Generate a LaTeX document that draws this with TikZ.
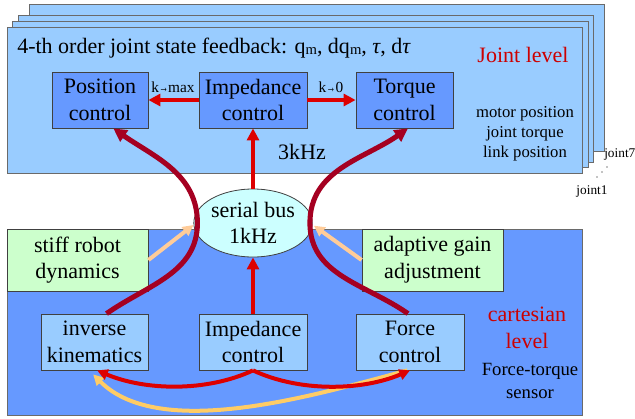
\documentclass[tikz,border=0pt]{standalone}
\usepackage{fontspec}
\setmainfont{Liberation Serif}
\usetikzlibrary{arrows.meta,shapes.geometric}
\definecolor{lightblue}{HTML}{99CCFF}
\definecolor{midblue}{HTML}{6699FF}
\definecolor{lightgreen}{HTML}{CCFFCC}
\definecolor{buscol}{HTML}{CCFFFF}
\definecolor{arrred}{HTML}{DD0000}
\definecolor{darkred}{HTML}{A50021}
\definecolor{peach}{HTML}{FFCC99}
\definecolor{yellowc}{HTML}{FFCC66}
\definecolor{txtred}{HTML}{CC0000}
\definecolor{boxborder}{HTML}{404040}
\definecolor{panelborder}{HTML}{6A6A6A}
\begin{document}
\begin{tikzpicture}[x=0.75pt,y=0.75pt,
  panel/.style={fill=lightblue,draw=panelborder,line width=0.7pt},
  box/.style={draw=boxborder,line width=0.6pt,align=center,inner sep=0pt,minimum height=42pt,font=\fontsize{16.5}{20}\selectfont},
  jbox/.style={box,fill=midblue},
  cbox/.style={box,fill=lightblue},
  gbox/.style={box,fill=lightgreen,minimum height=46.5pt,minimum width=105.75pt},
  bigtxt/.style={font=\fontsize{16.5}{20}\selectfont,align=center,inner sep=0pt},
  redarr/.style={draw=arrred,line width=3.2pt,-{Triangle[length=9pt,width=9pt]}},
  curvearr/.style={draw=darkred,line width=3.8pt,-{Triangle[length=10pt,width=10pt]}},
  peacharr/.style={draw=peach,line width=3pt,-{Triangle[length=8pt,width=8pt]}},
  yellowarr/.style={draw=yellowc,line width=3pt,-{Triangle[length=8pt,width=8pt]}},
  botarr/.style={draw=arrred,line width=3pt,-{Triangle[length=8pt,width=8pt]}}
]
\useasboundingbox (0,0) rectangle (635,-418);
% joint level stacked panels
\draw[panel] (29,-4) rectangle (604,-151);
\draw[panel] (18,-15) rectangle (593,-162);
\draw[panel] (12,-21) rectangle (588,-167);
\draw[panel] (7,-27) rectangle (582,-173);
% cartesian panel
\draw[fill=midblue,draw=panelborder,line width=0.7pt] (7,-229) rectangle (582,-415);

% joint level texts
\node[bigtxt,anchor=west] (title) at (17,-48) {4-th order joint state feedback: q\raisebox{-1pt}{\fontsize{11}{11}\selectfont m}, dq\raisebox{-1pt}{\fontsize{11}{11}\selectfont m}, {\itshape τ}, d{\itshape τ}};
\node[bigtxt,text=txtred] (jl) at (523,-55) {Joint level};
\node[font=\fontsize{12.5}{15}\selectfont,align=center,inner sep=0pt] (sens) at (525,-134) {motor position\\joint torque\\link position};
\node[bigtxt] (khz3) at (302,-152) {3kHz};
\node[font=\fontsize{10}{12}\selectfont,anchor=west,inner sep=0pt] (j7) at (604,-155) {joint7};
\node[font=\fontsize{10}{12}\selectfont,inner sep=0pt] (j1) at (592,-192) {joint1};
\fill (607,-167) circle (0.7);
\fill (602,-172) circle (0.7);
\fill (597,-177) circle (0.7);

% joint boxes
\node[jbox,minimum width=72pt] (pos) at (100,-100) {Position\\control};
\node[jbox,minimum width=81pt] (impT) at (253,-100) {Impedance\\control};
\node[jbox,minimum width=72.75pt] (tor) at (404.5,-100) {Torque\\control};

% cartesian level
\node[gbox] (stiff) at (77.5,-260) {stiff robot\\dynamics};
\node[gbox] (adapt) at (432.5,-260) {adaptive gain\\adjustment};
\node[cbox,minimum width=80.25pt] (ik) at (94.5,-342) {inverse\\kinematics};
\node[cbox,minimum width=81pt] (impB) at (253,-342) {Impedance\\control};
\node[cbox,minimum width=81pt] (force) at (410,-342) {Force\\control};
\node[bigtxt,text=txtred] (cl) at (527,-328) {cartesian\\level};
\node[font=\fontsize{14}{17}\selectfont,align=center,inner sep=0pt] (fts) at (530,-381) {Force-torque\\sensor};

% serial bus
\node[ellipse,draw=boxborder,line width=0.6pt,fill=buscol,minimum width=75pt,minimum height=51pt,inner sep=0pt,align=center,font=\fontsize{16.5}{20}\selectfont] (bus) at (253,-223) {serial bus\\1kHz};

% top arrows
\draw[redarr] (impT.west) -- (pos.east);
\draw[redarr] (impT.east) -- (tor.west);
\node[font=\fontsize{11.5}{13}\selectfont,inner sep=0pt] (kmax) at (173,-87) {k\scalebox{0.6}[1]{→}max};
\node[font=\fontsize{11.5}{13}\selectfont,inner sep=0pt] (kzero) at (331,-87) {k\scalebox{0.6}[1]{→}0};
\draw[redarr] (bus.north) -- (impT.south);
\draw[redarr] (impB.north) -- (bus.south);

% peach arrows
\draw[peacharr] (stiff.east) -- ([yshift=-1.5pt]bus.west);
\draw[peacharr] (adapt.west) -- ([xshift=1pt,yshift=-2pt]bus.east);

% dark red curves
\draw[curvearr] ([xshift=9pt]ik.north) to[out=35,in=-90] ([xshift=3pt]bus.west) to[out=90,in=-35] ([xshift=10pt]pos.south);
\draw[curvearr] ([xshift=-1.5pt]force.north) to[out=145,in=-90] ([xshift=-2pt]bus.east) to[out=90,in=-145] ([xshift=2.6pt]tor.south);

% bottom curves
\draw[yellowarr] ([xshift=-2pt]force.south) to[out=-165,in=-45,looseness=0.77] ([xshift=-1pt,yshift=-3pt]ik.south);
\draw[botarr] (impB.south) to[out=-155,in=-23,looseness=0.85] ([xshift=2pt]ik.south);
\draw[botarr] (impB.south) to[out=-25,in=-157,looseness=0.85] (force.south);
\end{tikzpicture}
\end{document}
